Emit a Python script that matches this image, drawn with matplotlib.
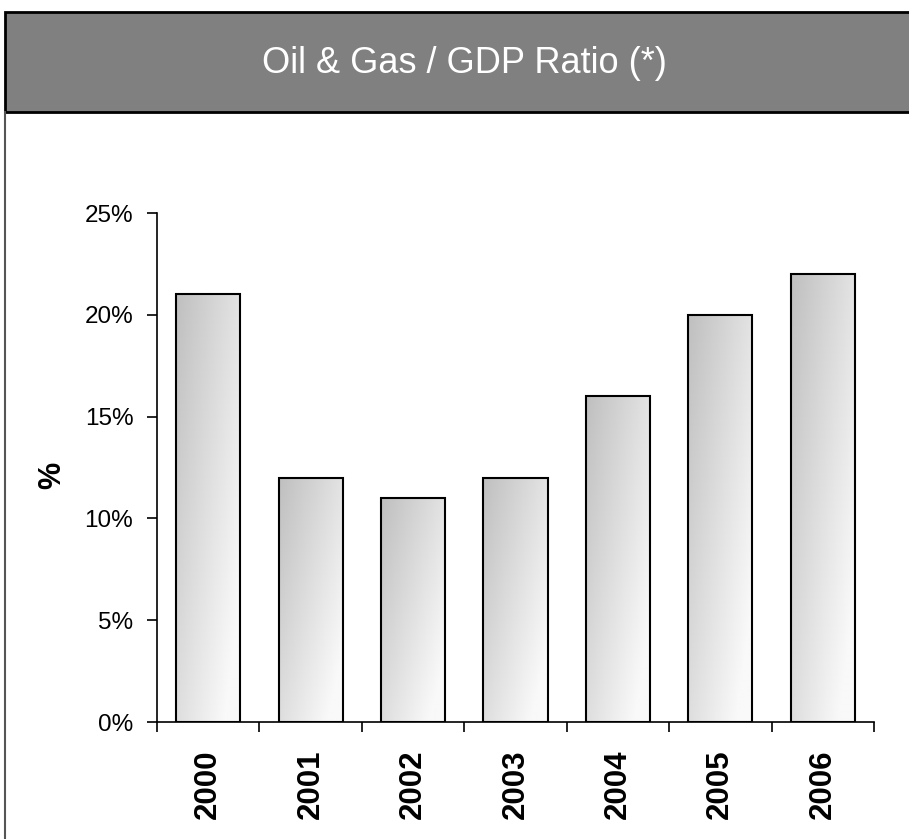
import numpy as np
import matplotlib
matplotlib.use('Agg')
import matplotlib.pyplot as plt
from matplotlib.patches import Rectangle
from matplotlib.lines import Line2D
from matplotlib.ticker import PercentFormatter

# data
years = ['2000', '2001', '2002', '2003', '2004', '2005', '2006']
ratio = [21, 12, 11, 12, 16, 20, 22]

plt.rcParams['font.family'] = ['Liberation Sans', 'DejaVu Sans']

fig = plt.figure(figsize=(9.09, 8.39), dpi=100)

# title bar
fig.add_artist(Rectangle((0.0055, 0.8665), 1.0, 0.1192, transform=fig.transFigure,
                         facecolor='#808080', edgecolor='black', linewidth=2))
fig.add_artist(Line2D([0.0055, 0.0055], [0.0, 0.8665], transform=fig.transFigure,
                      color='#555555', linewidth=1.5))
fig.text(0.511, 0.924, 'Oil & Gas / GDP Ratio (*)', color='white', fontsize=26,
         ha='center', va='center')

ax = fig.add_axes([0.1727, 0.1394, 0.7888, 0.6067])
x = np.arange(len(years))
bars = ax.bar(x, ratio, width=0.625, facecolor='none', edgecolor='black',
              linewidth=1.5, zorder=3)

# diagonal grey-to-white gradient inside each bar
u = np.linspace(0, 1, 64)
v = np.linspace(0, 1, 64)
U, V = np.meshgrid(u, v)
grad = np.clip(0.75 + 0.14 * U + 0.12 * V, 0, 0.975)
for b in bars:
    x0, w, h = b.get_x(), b.get_width(), b.get_height()
    im = ax.imshow(grad, cmap='gray', vmin=0, vmax=1, aspect='auto',
                   extent=[x0, x0 + w, 0, h], origin='upper', zorder=2,
                   interpolation='bilinear')
    im.set_clip_path(b)

ax.set_xlim(-0.5, len(years) - 0.5)
ax.set_ylim(0, 25)
ax.set_yticks([0, 5, 10, 15, 20, 25])
ax.yaxis.set_major_formatter(PercentFormatter(decimals=0))
ax.tick_params(axis='y', labelsize=17.5, length=7, width=1.2, pad=10)

ax.set_xticks(np.arange(len(years) + 1) - 0.5)
ax.set_xticklabels([])
ax.set_xticks(x, minor=True)
ax.set_xticklabels(years, minor=True, rotation=90, fontsize=22.5, fontweight='bold')
ax.tick_params(axis='x', which='major', length=7, width=1.2)
ax.tick_params(axis='x', which='minor', length=0, pad=20)

for s in ['top', 'right']:
    ax.spines[s].set_visible(False)
for s in ['left', 'bottom']:
    ax.spines[s].set_linewidth(1.2)

fig.text(0.057, 0.433, '%', rotation=90, fontsize=22, fontweight='bold',
         ha='center', va='center')

fig.savefig('out.png', dpi=100)
